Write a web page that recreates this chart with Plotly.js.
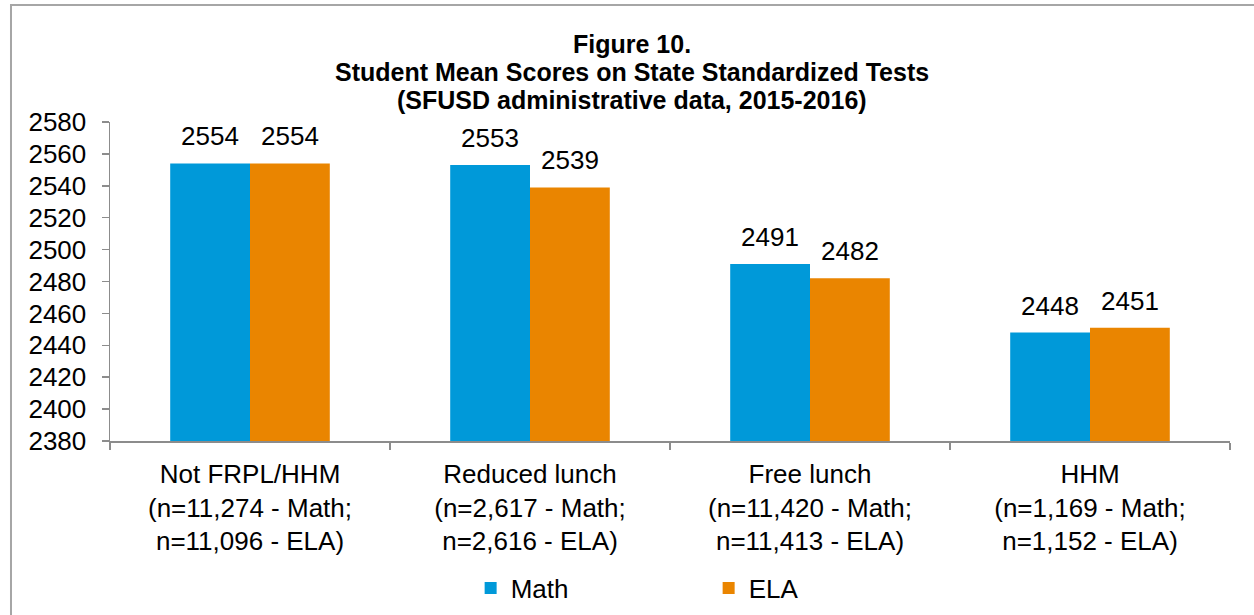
<!DOCTYPE html>
<html>
<head>
<meta charset="utf-8">
<script src="https://cdn.plot.ly/plotly-3.0.1.min.js"></script>
<style>
  body { margin: 0; background: #fff; }
  #chart { width: 1254px; height: 615px; }
</style>
</head>
<body>
<div id="chart"></div>
<script>
// categories and scores
var groups = [
    "Not FRPL/HHM<br>(n=11,274 - Math;<br>n=11,096 - ELA)",
    "Reduced lunch<br>(n=2,617 - Math;<br>n=2,616 - ELA)",
    "Free lunch<br>(n=11,420 - Math;<br>n=11,413 - ELA)",
    "HHM<br>(n=1,169 - Math;<br>n=1,152 - ELA)"
];
var mathScores = [2554, 2553, 2491, 2448];
var elaScores = [2554, 2539, 2482, 2451];
var yTicks = [2380, 2400, 2420, 2440, 2460, 2480, 2500, 2520, 2540, 2560, 2580];
var titleLines = [
    "Figure 10.",
    "Student Mean Scores on State Standardized Tests",
    "(SFUSD administrative data, 2015-2016)"
];

var font = "Liberation Sans, Arial, sans-serif";
var axisGrey = "#8c8c8c";
var fs = 26;

var traceMath = {
    type: "bar",
    name: "Math",
    x: groups,
    y: mathScores,
    marker: {color: "#0099d9"},
    hoverinfo: "none"
};
var traceEla = {
    type: "bar",
    name: "ELA",
    x: groups,
    y: elaScores,
    marker: {color: "#ea8500"},
    hoverinfo: "none"
};

var annotations = [];
// title, one line per annotation so the lines sit as close as in the original
var titleY = [1.2445, 1.1567, 1.069];
titleLines.forEach(function (line, i) {
    annotations.push({
        xref: "paper", yref: "paper",
        x: 0.466, y: titleY[i],
        xanchor: "center", yanchor: "middle",
        text: "<b>" + line + "</b>",
        showarrow: false,
        font: {family: font, size: 25, color: "#000"}
    });
});
// value labels above the bars
function addLabels(values, shift) {
    values.forEach(function (v, i) {
        annotations.push({
            xref: "x", yref: "y",
            x: groups[i], y: v,
            xshift: shift, yshift: 27,
            xanchor: "center", yanchor: "middle",
            text: String(v),
            showarrow: false,
            font: {family: font, size: fs, color: "#000"}
        });
    });
}
addLabels(mathScores, -40);
addLabels(elaScores, 40);

var layout = {
    width: 1254,
    height: 615,
    margin: {l: 110, r: 24, t: 122, b: 174, autoexpand: false},
    paper_bgcolor: "#fff",
    plot_bgcolor: "#fff",
    font: {family: font, size: fs, color: "#000"},
    barmode: "group",
    bargap: 0.43,
    bargroupgap: 0,
    xaxis: {
        type: "category",
        showline: true,
        linecolor: axisGrey,
        linewidth: 1.5,
        ticks: "outside",
        tickson: "boundaries",
        ticklen: 7,
        tickcolor: axisGrey,
        tickwidth: 1.5,
        ticklabelstandoff: 9,
        tickfont: {family: font, size: fs, color: "#000"},
        showgrid: false,
        zeroline: false,
        fixedrange: true
    },
    yaxis: {
        range: [2380, 2580],
        tickvals: yTicks,
        ticktext: yTicks.map(String),
        showline: true,
        linecolor: axisGrey,
        linewidth: 1.5,
        ticks: "outside",
        ticklen: 7,
        tickcolor: axisGrey,
        tickwidth: 1.5,
        ticklabelstandoff: 10,
        tickfont: {family: font, size: fs, color: "#000"},
        showgrid: false,
        zeroline: false,
        fixedrange: true
    },
    showlegend: true,
    legend: {
        orientation: "h",
        x: 0.322,
        xanchor: "left",
        y: -0.461,
        yanchor: "middle",
        font: {family: font, size: fs, color: "#000"},
        entrywidth: 193,
        entrywidthmode: "pixels",
        itemclick: false,
        itemdoubleclick: false
    },
    annotations: annotations,
    shapes: [{
        // outer chart border; only the left and top edges fall inside the picture
        type: "rect",
        xref: "paper",
        yref: "paper",
        x0: -0.0884,
        x1: 1.06,
        y0: -0.62,
        y1: 1.367,
        line: {color: "#a6a6a6", width: 2},
        fillcolor: "rgba(0,0,0,0)",
        layer: "below"
    }]
};

Plotly.newPlot("chart", [traceMath, traceEla], layout, {staticPlot: true, displayModeBar: false});
</script>
</body>
</html>
